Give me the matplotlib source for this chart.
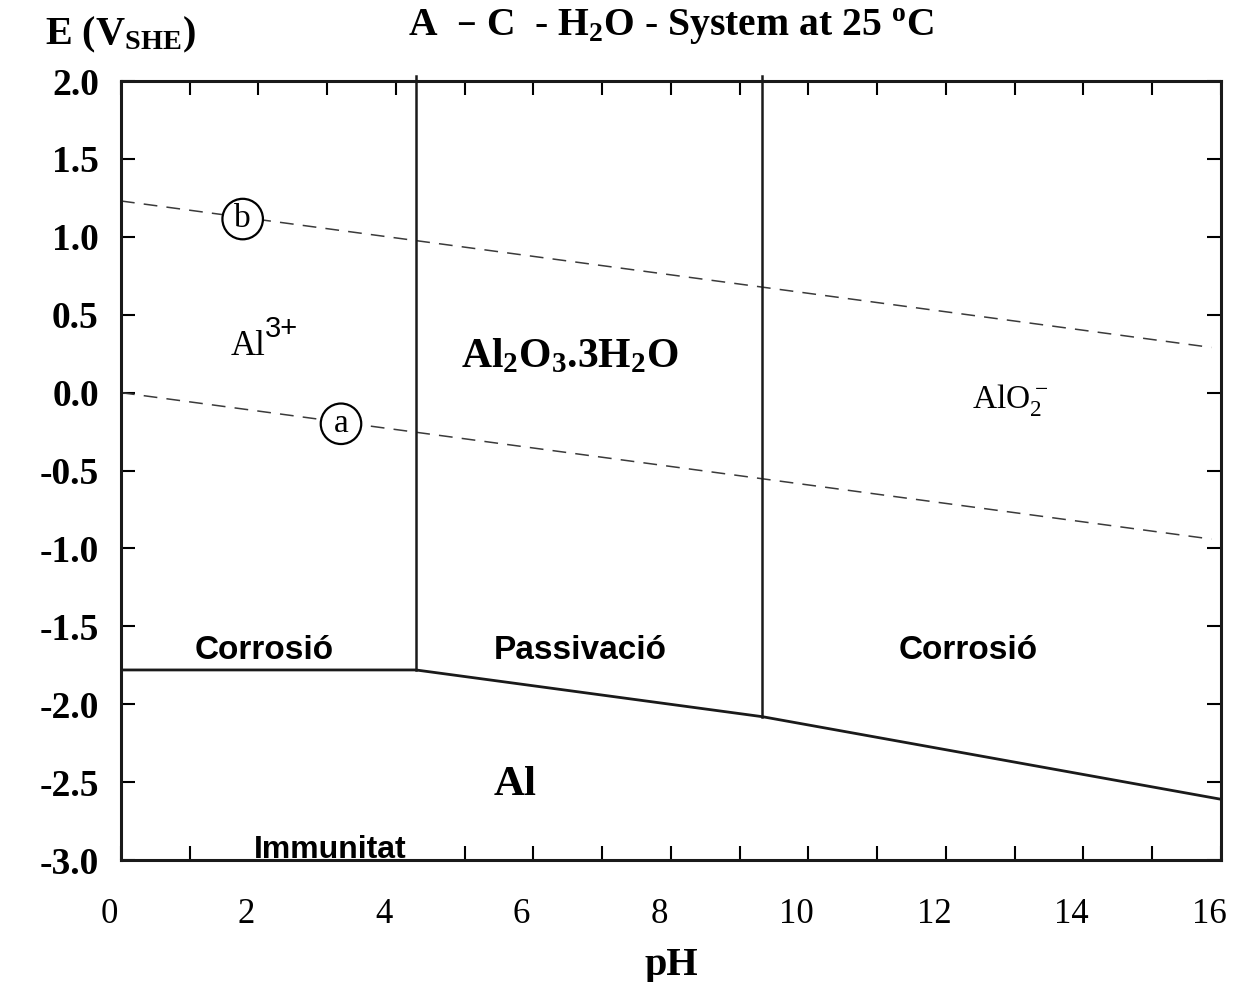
#!/usr/bin/env python
""" Pourbaix diagram Al - H2O at 25 C """

import matplotlib
matplotlib.use("Agg")
import matplotlib.pyplot as plt
import matplotlib.transforms as mtransforms

plt.rcParams['font.family'] = 'Liberation Serif'
plt.rcParams['mathtext.default'] = 'regular'

# water stability lines (dashed), read at both ends
ph_water = [0.0, 15.86]
e_line_b = [1.23, 0.29]
e_line_a = [0.0, -0.94]

# Al / oxide boundary (solid)
ph_bound = [0.0, 4.29, 9.33, 16.0]
e_bound = [-1.78, -1.78, -2.08, -2.61]

# vertical boundaries Al3+ | Al2O3.3H2O | AlO2-
ph_vert = [4.29, 9.33]
e_vert_low = [-1.78, -2.08]

xticks_major = list(range(0, 17, 2))
xticks_minor = list(range(1, 17, 2))
yticks = [2.0, 1.5, 1.0, 0.5, 0.0, -0.5, -1.0, -1.5, -2.0, -2.5, -3.0]


def main():
    fig = plt.figure(figsize=(12.59, 9.82), dpi=100)
    ax = fig.add_axes([0.0961, 0.1242, 0.8737, 0.7933])

    ax.plot(ph_water, e_line_b, '--', color='#3a3a3a', lw=1.1, dashes=(9, 6))
    ax.plot(ph_water, e_line_a, '--', color='#3a3a3a', lw=1.1, dashes=(9, 6))
    ax.plot(ph_bound, e_bound, '-', color='#1a1a1a', lw=2.0)
    for x, lo in zip(ph_vert, e_vert_low):
        ax.plot([x, x], [lo, 2.03], '-', color='#1a1a1a', lw=1.8, clip_on=False)

    ax.set_xlim(0, 16)
    ax.set_ylim(-3, 2)

    ax.set_xticks(xticks_major)
    ax.set_xticks(xticks_minor, minor=True)
    ax.set_xticklabels([str(t) for t in xticks_major], fontsize=25)
    ax.set_yticks(yticks)
    ax.set_yticklabels(['%.1f' % t for t in yticks], fontweight='bold', fontsize=27)
    ax.tick_params(axis='both', which='both', direction='in', length=10, width=1.5,
                   top=True, right=True)
    ax.tick_params(axis='x', pad=27)
    ax.tick_params(axis='y', pad=16)
    shift = mtransforms.ScaledTranslation(-12 / 100, 0, fig.dpi_scale_trans)
    for lab in ax.get_xticklabels():
        lab.set_transform(lab.get_transform() + shift)
    # bottom ticks under "Immunitat" are covered in the original
    ax.xaxis.get_major_ticks()[1].tick1line.set_visible(False)
    ax.xaxis.get_major_ticks()[2].tick1line.set_visible(False)
    ax.xaxis.get_minor_ticks()[1].tick1line.set_visible(False)
    for sp in ax.spines.values():
        sp.set_linewidth(2.2)
        sp.set_color('#1a1a1a')

    ax.set_xlabel('pH', fontsize=29, fontweight='bold', labelpad=12)

    fig.text(45 / 1259, 1 - 35 / 982, 'E (V$_{SHE}$)', fontsize=29, fontweight='bold',
             ha='left', va='center')
    fig.text(671 / 1259, 1 - 27 / 982, 'A  \u2013 C  - H$_2$O - System at 25 $^o$C',
             fontsize=28.5, fontweight='bold', ha='center', va='center')

    # circled markers on the water lines
    circ = dict(boxstyle='circle,pad=0.15', fc='white', ec='black', lw=1.6)
    ax.text(1.77, 1.114, 'b', fontsize=24, ha='center', va='center', bbox=circ)
    ax.text(3.2, -0.2, 'a', fontsize=24, ha='center', va='center', bbox=circ)

    # species
    ax.text(2.1, 0.24, 'Al', fontsize=25, ha='right', va='baseline')
    ax.text(2.1, 0.36, '3+', fontsize=21, family='Liberation Sans', ha='left', va='baseline')
    ax.text(6.53, 0.23, 'Al$_2$O$_3$.3H$_2$O', fontsize=30, fontweight='bold',
            ha='center', va='center')
    ax.text(12.93, -0.05, 'AlO$_2^-$', fontsize=24, ha='center', va='center')
    ax.text(5.73, -2.52, 'Al', fontsize=31, fontweight='bold', ha='center', va='center')

    # regions
    sans = ['Liberation Sans', 'DejaVu Sans']
    ax.text(2.09, -1.652, 'Corrosió', fontsize=24, fontweight='bold', family=sans,
            ha='center', va='center')
    ax.text(6.68, -1.652, 'Passivació', fontsize=24, fontweight='bold', family=sans,
            ha='center', va='center')
    ax.text(12.32, -1.655, 'Corrosió', fontsize=24, fontweight='bold', family=sans,
            ha='center', va='center')
    ax.text(3.05, -2.99, 'Immunitat', fontsize=23, fontweight='bold',
            family=sans, ha='center', va='baseline')

    fig.savefig('out.png', dpi=100)


if __name__ == "__main__":
    main()
